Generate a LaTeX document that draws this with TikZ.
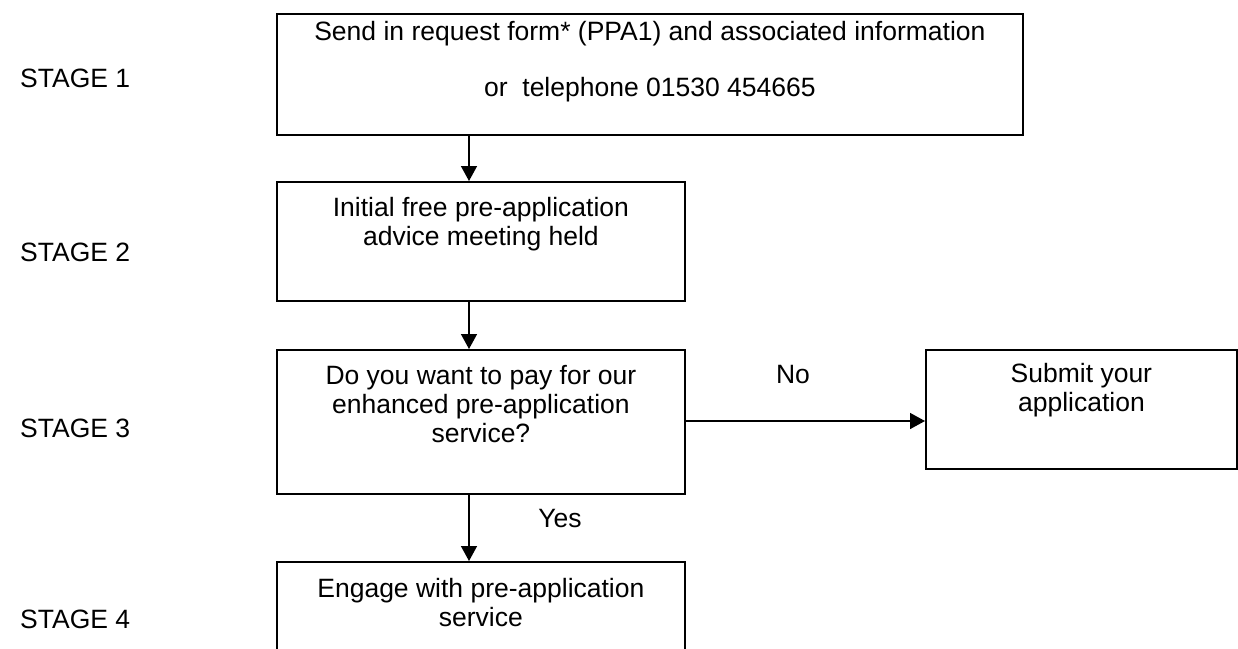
\documentclass[tikz,border=0pt]{standalone}
\usepackage{fontspec}
\setmainfont{Liberation Sans}
\usetikzlibrary{arrows.meta, positioning}
\newcommand{\Fs}{\fontsize{26.5}{29}\selectfont}
\tikzset{
  stagebox/.style={draw, line width=1.8pt, anchor=north west, inner sep=0pt},
  boxtext/.style={align=center, anchor=north, inner sep=0pt, font=\Fs},
  stagelbl/.style={anchor=base west, inner sep=0pt, font=\Fs},
  answer/.style={anchor=base, inner sep=0pt, font=\Fs},
  flow/.style={-{Triangle[length=15pt, width=16pt]}, line width=1.5pt},
}

\begin{document}
\begin{tikzpicture}[x=1pt, y=-1pt]
    \useasboundingbox (0,0) rectangle (1238,648);
    \clip (0,0) rectangle (1238,648);
    % boxes
    \node[stagebox, minimum width=746pt, minimum height=121pt] (req)    at (276,13)  {};
    \node[stagebox, minimum width=408pt, minimum height=119pt] (meet)   at (276,181) {};
    \node[stagebox, minimum width=408pt, minimum height=144pt] (ask)    at (276,349) {};
    \node[stagebox, minimum width=311pt, minimum height=119pt] (sub)    at (925,349) {};
    \node[stagebox, minimum width=408pt, minimum height=140pt] (engage) at (276,561) {};
    % box texts
    \node[boxtext, below=8pt of req.north]     (reqtxt)    {Send in request form* (PPA1) and associated information\\[27pt]or\ \ telephone 01530 454665};
    \node[boxtext, below=16.5pt of meet.north] (meettxt)   {Initial free pre-application\\advice meeting held};
    \node[boxtext, below=16.5pt of ask.north]  (asktxt)    {Do you want to pay for our\\enhanced pre-application\\service?};
    \node[boxtext, below=14.5pt of sub.north]  (subtxt)    {Submit your\\application};
    \node[boxtext, below=17pt of engage.north] (engagetxt) {Engage with pre-application\\service};
    % stages
    \node[stagelbl] (st1) at (20,87)  {STAGE 1};
    \node[stagelbl] (st2) at (20,261) {STAGE 2};
    \node[stagelbl] (st3) at (20,437) {STAGE 3};
    \node[stagelbl] (st4) at (20,628) {STAGE 4};
    % connectors
    \draw[flow] ([xshift=193pt]req.south west)  -- ([xshift=193pt]meet.north west);
    \draw[flow] ([xshift=193pt]meet.south west) -- ([xshift=193pt]ask.north west);
    \draw[flow] ([xshift=193pt]ask.south west)  -- ([xshift=193pt]engage.north west);
    \draw[flow] ([yshift=-72pt]ask.north east)  -- ([yshift=-72pt]sub.north west);
    \node[answer] (no)  at (793,383) {No};
    \node[answer] (yes) at (560,527) {Yes};
\end{tikzpicture}
\end{document}
